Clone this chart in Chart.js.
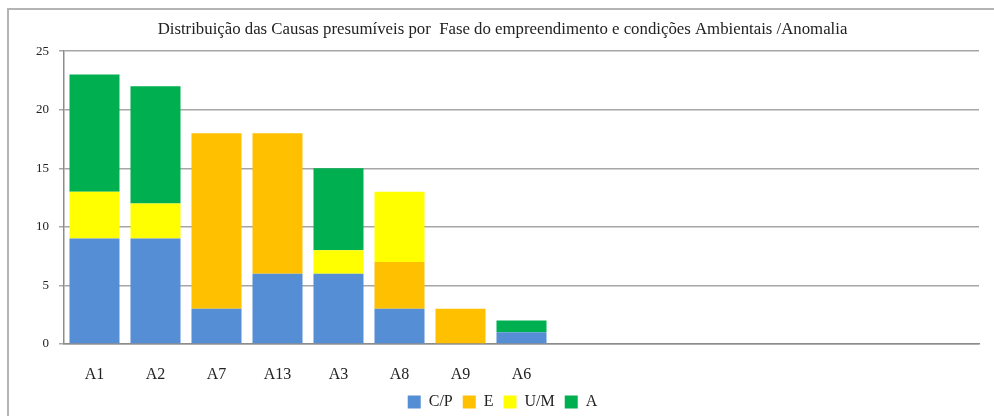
<!DOCTYPE html>
<html>
<head>
<meta charset="utf-8">
<script src="https://cdn.jsdelivr.net/npm/chart.js@4/dist/chart.umd.min.js"></script>
<style>
    body { margin: 0; background: #fff; overflow: hidden; }
    #frame {
        position: absolute;
        left: 7px; top: 8px;
        width: 985px; height: 406px;
        border-left: 2px solid #b4b4b4;
        border-top: 2px solid #b4b4b4;
    }
</style>
</head>
<body>
<div id="frame"><canvas id="causasChart" width="985" height="406"></canvas></div>
<script>
// anomalias (the chart keeps 15 slots, only the first 8 are used)
const categorias = ['A1', 'A2', 'A7', 'A13', 'A3', 'A8', 'A9', 'A6', '', '', '', '', '', '', ''];

// causas presumíveis por anomalia
const valoresCP = [9, 9, 3, 6, 6, 3, 0, 1];
const valoresE = [0, 0, 15, 12, 0, 4, 3, 0];
const valoresUM = [4, 3, 0, 0, 2, 6, 0, 0];
const valoresA = [10, 10, 0, 0, 7, 0, 0, 1];

const ticksY = [0, 5, 10, 15, 20, 25];

const serif = "'Liberation Serif', 'DejaVu Serif', serif";

function serie(label, data, cor) {
    return {
        label: label,
        data: data,
        backgroundColor: cor,
        borderWidth: 0,
        categoryPercentage: 1,
        barPercentage: 0.82
    };
}

let ctx = document.getElementById('causasChart').getContext('2d');
let causasChart = new Chart(ctx, {
    type: 'bar',
    data: {
        labels: categorias,
        datasets: [
            serie('C/P', valoresCP, '#558ed5'),
            serie('E', valoresE, '#ffc000'),
            serie('U/M', valoresUM, '#ffff00'),
            serie('A', valoresA, '#00b050')
        ]
    },
    options: {
        responsive: false,
        animation: false,
        layout: {
            // legend hangs a little into its bottom padding
            padding: { left: 17, right: 15, top: 0, bottom: -4 }
        },
        plugins: {
            title: {
                display: true,
                text: 'Distribuição das Causas presumíveis por  Fase do empreendimento e condições Ambientais /Anomalia',
                color: '#222',
                font: { family: serif, size: 16.8, weight: 'normal' },
                padding: { top: 10, bottom: 11 }
            },
            legend: {
                position: 'bottom',
                labels: {
                    boxWidth: 13,
                    boxHeight: 13,
                    color: '#222',
                    padding: 10,
                    font: { family: serif, size: 16 }
                }
            },
            tooltip: { enabled: false }
        },
        scales: {
            x: {
                stacked: true,
                grid: { display: false, drawTicks: false },
                border: { color: '#8c8c8c', width: 1.5 },
                ticks: {
                    color: '#222',
                    padding: 21,
                    maxRotation: 0,
                    autoSkip: false,
                    font: { family: serif, size: 16 }
                },
                // labels sit low under the axis; keep the band tight so the legend fits below
                afterFit: function (axis) {
                    axis.height = 40;
                }
            },
            y: {
                stacked: true,
                min: 0,
                max: 25,
                afterBuildTicks: function (axis) {
                    axis.ticks = ticksY.map(v => ({ value: v }));
                },
                grid: { color: '#a6a6a6', lineWidth: 1.5, tickLength: 5 },
                border: { color: '#8c8c8c', width: 1.5 },
                ticks: {
                    color: '#222',
                    padding: 10,
                    font: { family: serif, size: 13 }
                }
            }
        }
    }
});
</script>
</body>
</html>
